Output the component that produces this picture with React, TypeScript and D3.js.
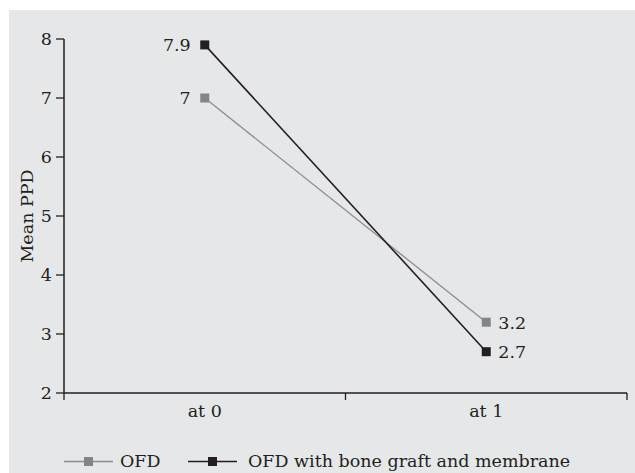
import React from "react";
import * as d3 from "d3";

const categories = ["at 0", "at 1"];
const seriesNames = ["OFD", "OFD with bone graft and membrane"];
const ofdValues = [7, 3.2];
const boneValues = [7.9, 2.7];
const yTicks = [2, 3, 4, 5, 6, 7, 8];
const yTitle = "Mean PPD";

const W = 635;
const H = 473;
const FONT = "'DejaVu Serif', serif";
const FS = 17.5;
const AXIS = "#231f20";

export default function App() {
  const left = 64, right = 627, top = 39, bottom = 393;
  const x = d3.scaleBand<string>().domain(categories).range([left, right]);
  const y = d3.scaleLinear().domain([2, 8]).range([bottom, top]);
  const cx = (c: string) => (x(c) as number) + x.bandwidth() / 2;

  const series = [
    { name: seriesNames[0], values: ofdValues, line: "#8c8c8c", fill: "#858585", w: 1.3 },
    { name: seriesNames[1], values: boneValues, line: "#231f20", fill: "#231f20", w: 1.6 },
  ];
  const line = d3
    .line<number>()
    .x((_, i) => cx(categories[i]))
    .y((v) => y(v));

  const bandEdges = [left, ...categories.map((c) => (x(c) as number) + x.bandwidth())];
  const legendX = [64, 188];
  const legendTextX = [120, 248];
  const ly = 461.5;
  const ms = 9;

  return (
    <svg
      width={W}
      height={H}
      style={{ position: "absolute", left: 0, top: 0, display: "block" }}
      fontFamily={FONT}
    >
      <rect x={9} y={10} width={W - 9} height={H - 10} fill="#e6e7e8" />
      {/* y axis */}
      <line x1={left} x2={left} y1={top} y2={bottom} stroke={AXIS} strokeWidth={1.5} />
      {yTicks.map((t) => (
        <g key={t}>
          <line x1={left - 8} x2={left} y1={y(t)} y2={y(t)} stroke={AXIS} strokeWidth={1.3} />
          <text x={left - 12} y={y(t)} dy="0.36em" textAnchor="end" fontSize={FS} fill={AXIS}>
            {t}
          </text>
        </g>
      ))}
      <text
        transform={`translate(33,216) rotate(-90)`}
        textAnchor="middle"
        fontSize={FS}
        fill={AXIS}
      >
        {yTitle}
      </text>
      {/* x axis */}
      <line x1={left} x2={right} y1={bottom} y2={bottom} stroke={AXIS} strokeWidth={1.5} />
      {bandEdges.map((e, i) => (
        <line key={i} x1={e} x2={e} y1={bottom} y2={bottom + 7} stroke={AXIS} strokeWidth={1.3} />
      ))}
      {categories.map((c) => (
        <text key={c} x={cx(c)} y={417} textAnchor="middle" fontSize={FS} fill={AXIS}>
          {c}
        </text>
      ))}
      {/* series */}
      {series.map((s) => (
        <g key={s.name}>
          <path d={line(s.values) || ""} fill="none" stroke={s.line} strokeWidth={s.w} />
          {s.values.map((v, i) => (
            <rect
              key={i}
              x={cx(categories[i]) - ms / 2}
              y={y(v) - ms / 2}
              width={ms}
              height={ms}
              fill={s.fill}
            />
          ))}
          {s.values.map((v, i) => (
            <text
              key={"l" + i}
              x={i === 0 ? cx(categories[i]) - 14 : cx(categories[i]) + 12}
              y={y(v)}
              dy="0.36em"
              textAnchor={i === 0 ? "end" : "start"}
              fontSize={FS}
              fill={AXIS}
            >
              {v}
            </text>
          ))}
        </g>
      ))}
      {/* legend */}
      {series.map((s, i) => (
        <g key={"lg" + i}>
          <line x1={legendX[i]} x2={legendX[i] + 49} y1={ly} y2={ly} stroke={s.line} strokeWidth={s.w} />
          <rect x={legendX[i] + 24.5 - ms / 2} y={ly - ms / 2} width={ms} height={ms} fill={s.fill} />
          <text x={legendTextX[i]} y={467} fontSize={FS} fill={AXIS}>
            {s.name}
          </text>
        </g>
      ))}
    </svg>
  );
}
